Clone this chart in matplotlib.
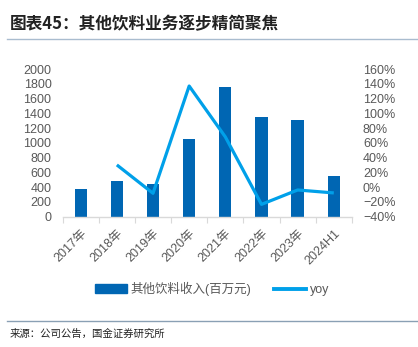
import matplotlib
matplotlib.use('Agg')
import matplotlib.pyplot as plt
from matplotlib.ticker import FixedLocator, PercentFormatter
from matplotlib.lines import Line2D
from matplotlib.patches import Patch

plt.rcParams['font.family'] = ['Liberation Sans', 'Noto Sans CJK SC', 'DejaVu Sans']

# data
years = ['2017年', '2018年', '2019年', '2020年', '2021年', '2022年', '2023年', '2024H1']
revenue = [375, 482, 442, 1052, 1755, 1350, 1310, 550]      # 百万元
yoy_years = years[1:]
yoy = [30, -8.5, 137, 68, -23.5, -4, -8]                     # %

bar_color = '#0066B3'
line_color = '#00A0E9'
grey = '#595959'

fig = plt.figure(figsize=(4.18, 3.47), dpi=100)
ax = fig.add_axes([0.1498, 0.376, 0.692, 0.425])
ax2 = ax.twinx()

x = list(range(len(years)))
ax.bar(x, revenue, width=0.34, color=bar_color, zorder=2)
ax2.plot(x[1:], yoy, color=line_color, lw=2.3, solid_capstyle='butt', zorder=3)

ax.set_xlim(-0.5, len(years) - 0.5)
ax.set_ylim(0, 2000)
ax.set_yticks(range(0, 2001, 200))
ax2.set_ylim(-40, 160)
ax2.set_yticks(range(-40, 161, 20))
ax2.yaxis.set_major_formatter(PercentFormatter(decimals=0))

ax.set_xticks(x)
ax.set_xticklabels(years, rotation=45, ha='right', rotation_mode='anchor')
ax.xaxis.set_minor_locator(FixedLocator([i - 0.5 for i in range(len(years) + 1)]))
ax.tick_params(axis='x', which='major', length=0, pad=8, labelsize=9, labelcolor=grey)
ax.tick_params(axis='x', which='minor', length=4, width=0.8, color='#d9d9d9')
ax.tick_params(axis='y', length=0, pad=8, labelsize=9, labelcolor=grey)
ax2.tick_params(axis='y', length=0, pad=8, labelsize=9, labelcolor=grey)

for a in (ax, ax2):
    for s in ['top', 'right', 'left']:
        a.spines[s].set_visible(False)
ax2.spines['bottom'].set_visible(False)
ax.spines['bottom'].set_color('#d9d9d9')
ax.spines['bottom'].set_linewidth(1.0)

handles = [Patch(color=bar_color), Line2D([], [], color=line_color, lw=2.8)]
ax2.legend(handles, ['其他饮料收入(百万元)', 'yoy'], loc='center', ncol=2,
           bbox_to_anchor=(0.507, 0.167), bbox_transform=fig.transFigure,
           frameon=False, fontsize=9,
           handlelength=2.6, handleheight=0.7, columnspacing=1.8,
           handletextpad=0.25, labelcolor=grey)

# title and source
fig.text(0.024, 0.93, '图表45：其他饮料业务逐步精简聚焦', fontsize=12, fontweight='bold',
         family=['Noto Sans CJK SC'], color='#222222', va='center')
fig.add_artist(Line2D([0.017, 1.0], [0.888, 0.888], color='#a9bccf', lw=1.0))
fig.add_artist(Line2D([0.017, 1.0], [0.075, 0.075], color='#8aa0b4', lw=1.0))
fig.text(0.024, 0.037, '来源：公司公告，国金证券研究所', fontsize=7.5,
         family=['Noto Sans CJK SC'], color='#222222', va='center')

fig.savefig('out.png', dpi=100)
